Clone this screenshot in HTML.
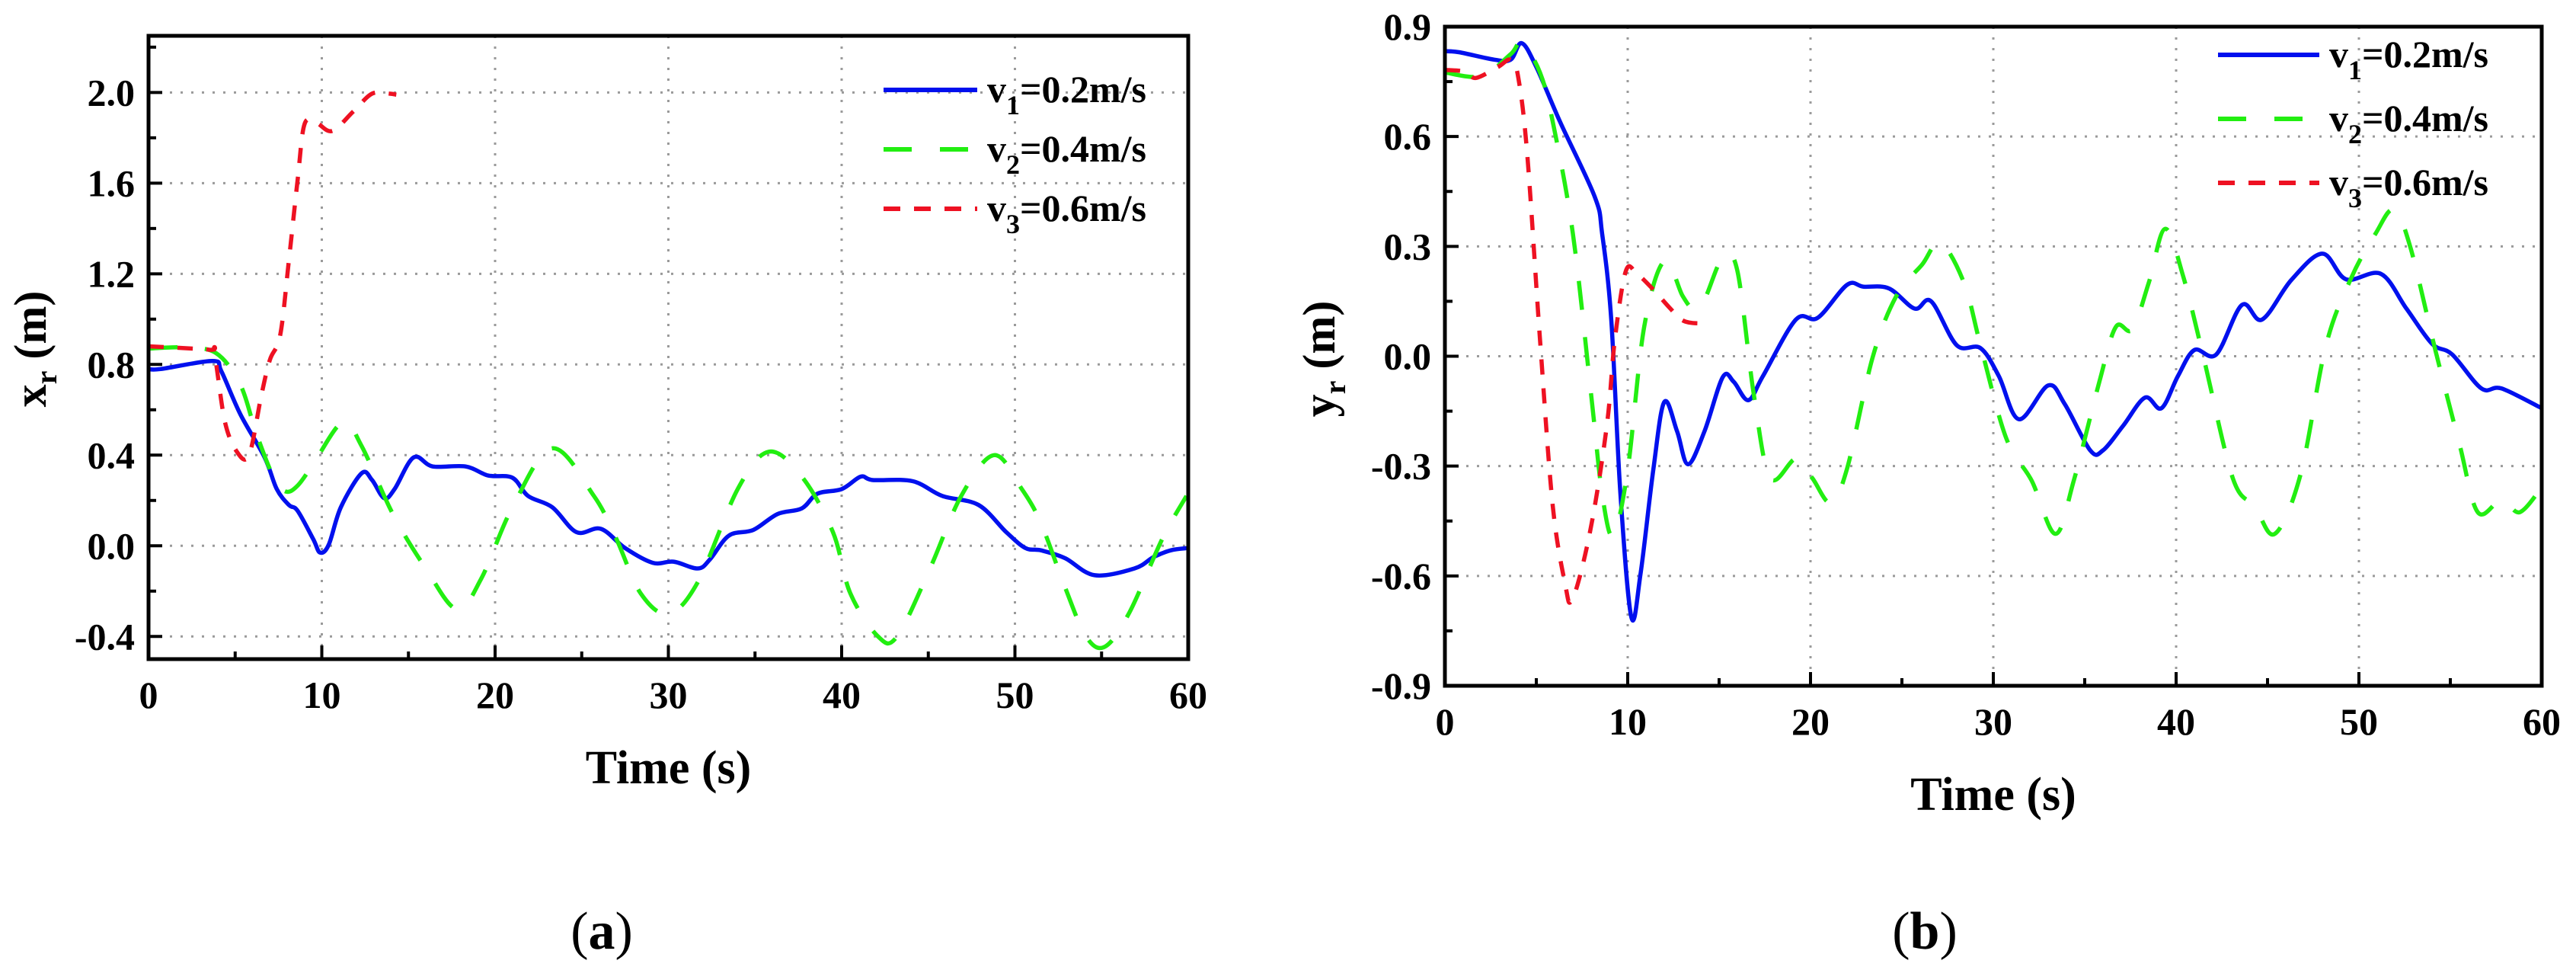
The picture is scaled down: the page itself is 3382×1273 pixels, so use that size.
<!DOCTYPE html>
<html><head><meta charset="utf-8"><style>
html,body{margin:0;padding:0;background:#fff}
svg{display:block}
text{font-family:"Liberation Serif",serif;font-weight:bold;fill:#000}
</style></head><body>
<svg id="fig" width="3382" height="1273" viewBox="0 0 3382 1273" xmlns="http://www.w3.org/2000/svg"></svg>
<script>
// ---- Panel (a) data: x_r ----
const aTicksX = [0,10,20,30,40,50,60];
const aTicksY = [-0.4,0.0,0.4,0.8,1.2,1.6,2.0];
const aTickLabelsY = ["-0.4","0.0","0.4","0.8","1.2","1.6","2.0"];
const aBlueT = [0,0.7,3.7,4.2,5.3,6.7,7.4,8.1,8.6,9.5,9.9,10.4,11.1,12.3,12.9,13.6,14.2,15.3,16.4,18.3,19.6,21,21.9,23.3,24.7,26.1,27.5,29.1,30.3,31.7,32.4,33.5,34.9,36.3,37.7,38.6,40,41.1,41.8,44.1,45.8,47.9,49.5,50.6,51.5,52.9,54.6,56.9,58,59,60];
const aBlueV = [0.78,0.78,0.815,0.77,0.58,0.39,0.25,0.18,0.155,0.03,-0.03,0.005,0.17,0.32,0.29,0.21,0.25,0.39,0.35,0.35,0.31,0.30,0.22,0.17,0.06,0.075,-0.01,-0.075,-0.07,-0.1,-0.06,0.045,0.07,0.14,0.165,0.23,0.25,0.305,0.29,0.285,0.22,0.18,0.06,-0.01,-0.02,-0.055,-0.13,-0.1,-0.05,-0.02,-0.01];
const aGreenT = [0,2,3.9,5.3,6.2,7.2,7.9,8.6,9.5,11.2,12.3,14.1,16,17.8,19.2,21,23.3,25.7,27,28.4,30,31.7,34,35.8,37.7,39.5,40.5,42.1,43.2,45.1,46.9,48.8,50.4,51.5,52.9,54.1,55.2,56.6,58.5,59.9];
const aGreenV = [0.87,0.875,0.85,0.71,0.5,0.305,0.24,0.265,0.36,0.545,0.44,0.14,-0.1,-0.28,-0.145,0.17,0.43,0.22,0.03,-0.21,-0.3,-0.16,0.25,0.415,0.305,0.06,-0.21,-0.4,-0.4,-0.1,0.22,0.40,0.25,0.1,-0.185,-0.4,-0.445,-0.295,0.03,0.22];
const aRedT = [0,3.5,3.8,4.4,5.1,5.8,6.5,7,7.6,8.1,8.6,9,9.7,10.6,11.8,12.9,13.9,14.3];
const aRedV = [0.88,0.865,0.85,0.55,0.415,0.40,0.66,0.82,0.93,1.26,1.61,1.86,1.865,1.83,1.915,1.995,1.995,1.99];

// ---- Panel (b) data: y_r ----
const bTicksX = [0,10,20,30,40,50,60];
const bTicksY = [-0.9,-0.6,-0.3,0.0,0.3,0.6,0.9];
const bTickLabelsY = ["-0.9","-0.6","-0.3","0.0","0.3","0.6","0.9"];
const bBlueT = [0,0.8,2.7,3.6,4.2,5,6.3,8.2,8.6,9.1,9.6,10.2,10.7,11.4,12,12.7,13.3,14.2,15.2,15.8,16.6,17.4,19.2,20.4,22,22.9,24.3,25.7,26.6,28,29.3,30.3,31.4,33,33.9,35.3,36,37.1,38.3,39.2,40.1,41,42.2,43.6,44.7,46.3,48,49.3,51.2,52.6,54,55.1,56.7,57.8,60];
const bBlueV = [0.833,0.83,0.81,0.81,0.855,0.79,0.64,0.435,0.335,0.1,-0.375,-0.713,-0.595,-0.31,-0.125,-0.205,-0.295,-0.205,-0.057,-0.07,-0.12,-0.054,0.1,0.105,0.195,0.19,0.185,0.13,0.15,0.03,0.022,-0.054,-0.172,-0.08,-0.13,-0.257,-0.257,-0.19,-0.113,-0.142,-0.054,0.017,0.005,0.14,0.1,0.208,0.28,0.21,0.225,0.13,0.034,0.005,-0.088,-0.088,-0.142];
const bGreenT = [0,2,3.6,4.2,5.2,5.9,7,8,8.6,9.2,10,10.9,12,13,13.6,14.2,15.2,16,16.9,17.8,19.2,20.1,21.1,22,23.4,24.7,26.1,27.1,28.4,29.3,30.7,32.1,33.4,34.4,35.8,36.7,37.6,38.5,39.4,40.4,41.5,43.1,44.3,45.4,46.8,48.2,49.6,50.9,51.9,52.8,54.2,55.5,56.5,57.8,58.8,60];
const bGreenV = [0.775,0.765,0.825,0.855,0.775,0.64,0.335,-0.105,-0.375,-0.49,-0.31,0.08,0.26,0.165,0.13,0.155,0.27,0.233,-0.105,-0.333,-0.28,-0.333,-0.4,-0.307,-0.003,0.165,0.25,0.31,0.2,0.03,-0.223,-0.34,-0.485,-0.34,-0.07,0.08,0.073,0.2,0.348,0.216,-0.003,-0.333,-0.41,-0.485,-0.324,0.03,0.216,0.334,0.4,0.3,0.013,-0.24,-0.426,-0.392,-0.426,-0.358];
const bRedT = [0,1.1,1.7,2.9,3.6,4,4.5,5.2,5.9,6.6,6.9,7.5,8.2,8.9,9.3,9.9,10.5,11.4,12.3,13,13.9,14.2];
const bRedV = [0.782,0.777,0.76,0.79,0.81,0.765,0.554,0.047,-0.409,-0.628,-0.67,-0.578,-0.409,-0.172,0.047,0.233,0.225,0.182,0.132,0.098,0.09,0.098];

const legendLabels = [["v","1","=0.2m/s"],["v","2","=0.4m/s"],["v","3","=0.6m/s"]];

const NS = "http://www.w3.org/2000/svg";
const svg = document.getElementById("fig");
function mk(tag, attrs, parent){
  const e = document.createElementNS(NS, tag);
  for (const k in attrs) e.setAttribute(k, attrs[k]);
  (parent||svg).appendChild(e);
  return e;
}
function smoothPath(pts){
  let d = "M"+pts[0][0].toFixed(1)+","+pts[0][1].toFixed(1);
  for (let i=0;i<pts.length-1;i++){
    const p0=pts[Math.max(0,i-1)], p1=pts[i], p2=pts[i+1], p3=pts[Math.min(pts.length-1,i+2)];
    const c1x=p1[0]+(p2[0]-p0[0])/6, c1y=p1[1]+(p2[1]-p0[1])/6;
    const c2x=p2[0]-(p3[0]-p1[0])/6, c2y=p2[1]-(p3[1]-p1[1])/6;
    d+=" C"+c1x.toFixed(1)+","+c1y.toFixed(1)+" "+c2x.toFixed(1)+","+c2y.toFixed(1)+" "+p2[0].toFixed(1)+","+p2[1].toFixed(1);
  }
  return d;
}
const styles = {
  blue:{stroke:"#0010ee", dash:null, w:5.5},
  green:{stroke:"#22ee11", dash:"38,36", w:5.5},
  red:{stroke:"#ee1122", dash:"20,18", w:5.5}
};

function panel(cfg){
  const g = mk("g",{});
  
  
  const X = t => cfg.x0 + (t - cfg.xmin)/(cfg.xmax-cfg.xmin)*(cfg.x1-cfg.x0);
  const Y = v => cfg.y1 - (v - cfg.ymin)/(cfg.ymax-cfg.ymin)*(cfg.y1-cfg.y0);
  // grid
  const grid = mk("g",{stroke:"#9a9a9a","stroke-width":3,"stroke-dasharray":"3,11"},g);
  
  
  cfg.ticksX.forEach(t=>{ if(t>cfg.xmin && t<cfg.xmax) mk("line",{x1:X(t),x2:X(t),y1:cfg.y0,y2:cfg.y1},grid); });
  cfg.ticksY.forEach(v=>{ mk("line",{x1:cfg.x0,x2:cfg.x1,y1:Y(v),y2:Y(v)},grid); });
  // series
  cfg.series.forEach(s=>{
    const pts = s.t.map((t,i)=>[X(t),Y(s.v[i])]);
    const st = styles[s.c];
    const p = mk("path",{d:smoothPath(pts),fill:"none",stroke:st.stroke,"stroke-width":st.w,"stroke-linejoin":"round","stroke-linecap":"butt"},g);
    if(st.dash) p.setAttribute("stroke-dasharray",st.dash);
    
    
  });
  // frame
  const fr = mk("rect",{x:cfg.x0,y:cfg.y0,width:cfg.x1-cfg.x0,height:cfg.y1-cfg.y0,fill:"none",stroke:"#000","stroke-width":5},g);
  
  
  // ticks
  const tk = mk("g",{stroke:"#000","stroke-width":4},g);
  
  
  const dx = cfg.ticksX[1]-cfg.ticksX[0], dy = cfg.ticksY[1]-cfg.ticksY[0];
  for(let t=cfg.xmin;t<=cfg.xmax+1e-9;t+=dx/2){
    const major = Math.abs(Math.round((t-cfg.ticksX[0])/dx)*dx-(t-cfg.ticksX[0]))<1e-6;
    mk("line",{x1:X(t),x2:X(t),y1:cfg.y1,y2:cfg.y1-(major?18:10)},tk);
  }
  for(let v=cfg.ticksY[0]-dy/2;v<=cfg.ymax+1e-9;v+=dy/2){
    if(v<cfg.ymin-1e-9) continue;
    const major = Math.abs(Math.round((v-cfg.ticksY[0])/dy)*dy-(v-cfg.ticksY[0]))<1e-6;
    mk("line",{x1:cfg.x0,x2:cfg.x0+(major?18:10),y1:Y(v),y2:Y(v)},tk);
  }
  // tick labels
  cfg.ticksX.forEach(t=>{
    const e = mk("text",{x:X(t),y:cfg.y1+64,"font-size":50,"text-anchor":"middle"},g);
    e.textContent = String(t);
    
    
  });
  cfg.ticksY.forEach((v,i)=>{
    const e = mk("text",{x:cfg.x0-18,y:Y(v)+17,"font-size":50,"text-anchor":"end"},g);
    e.textContent = cfg.tickLabelsY[i];
    
    
  });
  // axis titles
  const xt = mk("text",{x:(cfg.x0+cfg.x1)/2,y:cfg.y1+163,"font-size":62,"text-anchor":"middle"},g);
  xt.textContent = "Time (s)";
  
  
  const yt = mk("text",{transform:"translate("+cfg.ylabX+","+cfg.ylabY+") rotate(-90)","font-size":60,"text-anchor":"middle"},g);
  yt.innerHTML = cfg.ylab+'<tspan font-size="40" dy="14">r</tspan><tspan dy="-14"> (m)</tspan>';
  
  
  // legend
  const lg = mk("g",{},g);
  
  
  ["blue","green","red"].forEach((c,i)=>{
    const y = cfg.legY[i];
    const st = styles[c];
    const ln = mk("line",{x1:cfg.legX0,x2:cfg.legX1,y1:y,y2:y,stroke:st.stroke,"stroke-width":6},lg);
    if(st.dash) ln.setAttribute("stroke-dasharray",c==="green"?"37,37":"22,18");
    
    
    const tx = mk("text",{x:cfg.legT,y:y+16,"font-size":50},lg);
    tx.innerHTML = legendLabels[i][0]+'<tspan font-size="36" dy="16">'+legendLabels[i][1]+'</tspan><tspan dy="-16">'+legendLabels[i][2]+'</tspan>';
    
    
  });
  // caption
  const cap = mk("text",{x:cfg.capX,y:1245,"font-size":70,"font-weight":"normal","text-anchor":"middle"},g);
  cap.setAttribute("style","font-weight:normal");
  cap.innerHTML = '(<tspan style="font-weight:bold">'+cfg.cap+'</tspan>)';
  
  
}

panel({name:"panel-a-xr",x0:195,x1:1560,y0:47,y1:865,xmin:0,xmax:60,ymin:-0.5,ymax:2.25,
  ticksX:aTicksX,ticksY:aTicksY,tickLabelsY:aTickLabelsY,ylab:"x",ylabX:60,ylabY:458,
  legX0:1160,legX1:1283,legT:1296,legY:[118,196,274],capX:790,cap:"a",
  series:[{c:"blue",t:aBlueT,v:aBlueV,name:"series-v1"},{c:"green",t:aGreenT,v:aGreenV,name:"series-v2"},{c:"red",t:aRedT,v:aRedV,name:"series-v3"}]});
panel({name:"panel-b-yr",x0:1897,x1:3337,y0:35,y1:900,xmin:0,xmax:60,ymin:-0.9,ymax:0.9,
  ticksX:bTicksX,ticksY:bTicksY,tickLabelsY:bTickLabelsY,ylab:"y",ylabX:1752,ylabY:471,
  legX0:2912,legX1:3045,legT:3058,legY:[72,156,240],capX:2527,cap:"b",
  series:[{c:"blue",t:bBlueT,v:bBlueV,name:"series-v1"},{c:"green",t:bGreenT,v:bGreenV,name:"series-v2"},{c:"red",t:bRedT,v:bRedV,name:"series-v3"}]});
</script>
</body></html>
